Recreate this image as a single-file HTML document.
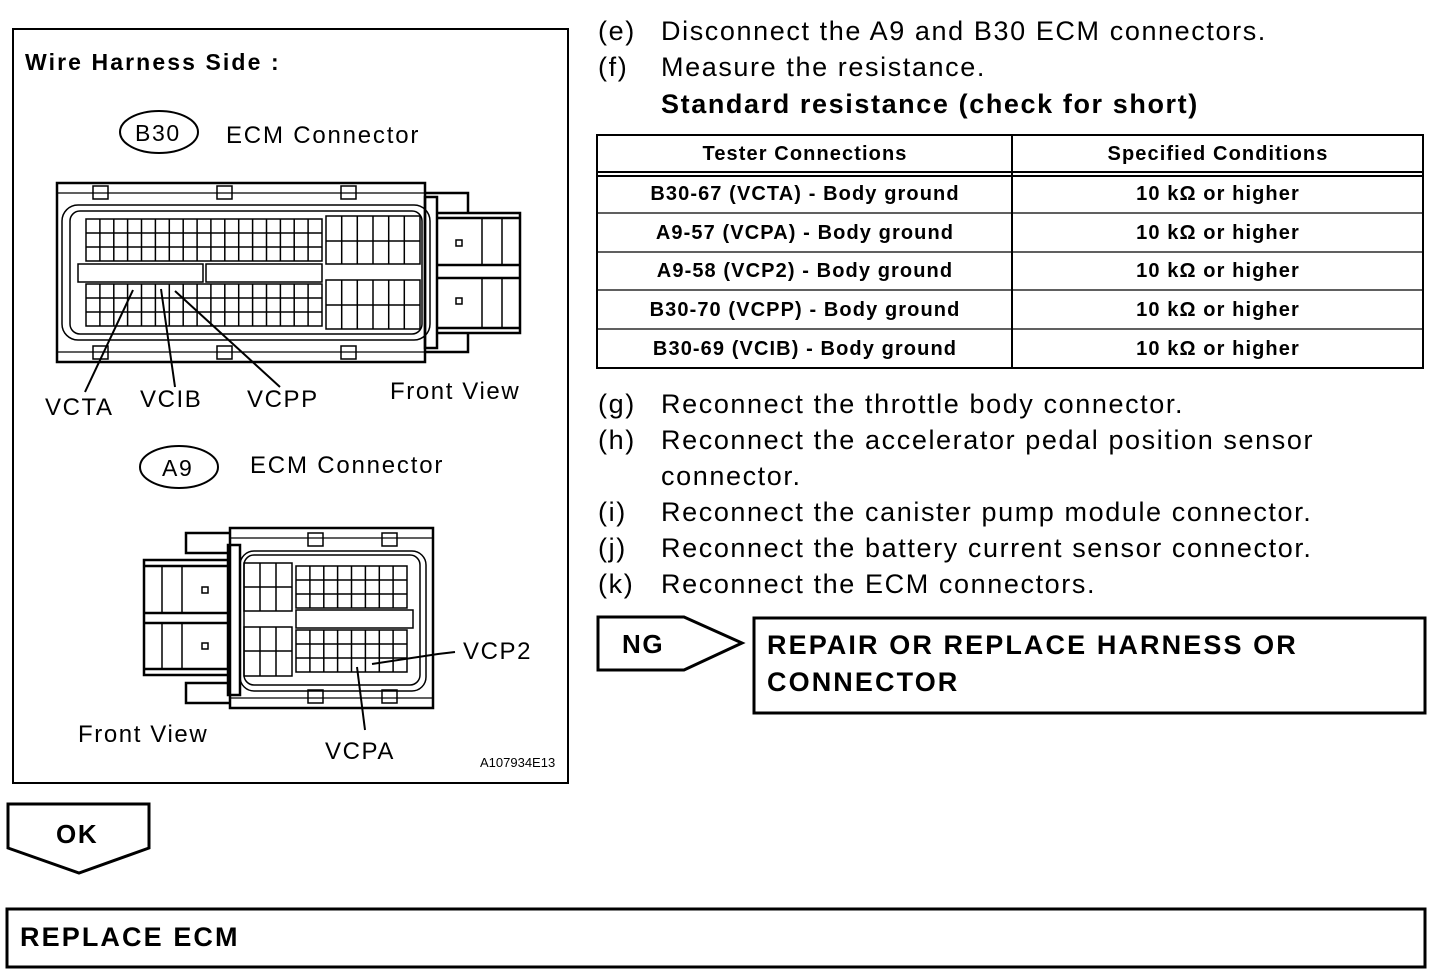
<!DOCTYPE html>
<html><head><meta charset="utf-8"><style>
body{margin:0;background:#fff;width:1456px;height:980px;overflow:hidden}
svg{position:absolute;left:0;top:0}
text{font-family:"Liberation Sans",Arial,sans-serif;fill:#000;letter-spacing:1.6px}
.b{font-weight:bold}
.t text{letter-spacing:1.1px}
.w{letter-spacing:2.1px}
</style></head><body>
<svg id="s" width="1456" height="980" xmlns="http://www.w3.org/2000/svg" stroke="#000" fill="none">
<rect x="13" y="29" width="555" height="754" stroke-width="2"/>
<text x="25" y="70" font-size="23" class="b w" stroke="none">Wire Harness Side :</text>
<ellipse cx="159" cy="132" rx="39" ry="21" stroke-width="2"/>
<text x="135" y="141" font-size="23" stroke="none">B30</text>
<text x="226" y="143" font-size="24" stroke="none" style="letter-spacing:1.8px">ECM Connector</text>
<ellipse cx="179" cy="467" rx="39" ry="21" stroke-width="2"/>
<text x="162" y="476" font-size="23" stroke="none">A9</text>
<text x="250" y="473" font-size="24" stroke="none" style="letter-spacing:1.8px">ECM Connector</text>

<g stroke-width="2.5">
<path d="M57 183 H425 V362 H57 Z"/>
<path d="M57 193 H425 M57 352 H425" stroke-width="1.2"/>
<path d="M425 193 H468 V213 M425 352 H468 V333"/>
<rect x="425" y="197" width="12" height="151"/>
<path d="M437 213 H520 V333 H437 M437 218 H520 M437 328 H520 M437 265 H520 M437 278 H520"/>
<rect x="62" y="205" width="368" height="135" rx="16" stroke-width="1.5"/>
<rect x="70" y="211" width="352" height="123" rx="10" stroke-width="1.5"/>
</g>
<g stroke-width="1.5">
<rect x="93" y="186" width="15" height="13"/><rect x="217" y="186" width="15" height="13"/><rect x="341" y="186" width="15" height="13"/>
<rect x="93" y="346" width="15" height="13"/><rect x="217" y="346" width="15" height="13"/><rect x="341" y="346" width="15" height="13"/>
<path d="M482 218 V265 M502 218 V265 M482 278 V328 M502 278 V328"/>
<rect x="456" y="240" width="6" height="6"/><rect x="456" y="298" width="6" height="6"/>
<rect x="78" y="264" width="125" height="18"/><rect x="206" y="264" width="116" height="18"/>
</g>
<g id="grids" stroke-width="1.5"></g>
<g stroke-width="2">
<path d="M133 290 L85 392"/><path d="M161 289 L175 387"/><path d="M175 291 L280 387"/>
</g>
<text x="45" y="415" font-size="24" stroke="none">VCTA</text>
<text x="140" y="407" font-size="24" stroke="none">VCIB</text>
<text x="247" y="407" font-size="24" stroke="none">VCPP</text>
<text x="390" y="399" font-size="24" stroke="none">Front View</text>

<g stroke-width="2.5">
<path d="M230 528 H433 V708 H230 Z"/>
<path d="M230 538 H433 M230 698 H433" stroke-width="1.2"/>
<path d="M230 533 H186 V553 H230 M230 703 H186 V683 H230"/>
<rect x="228" y="545" width="12" height="150"/>
<path d="M228 560 H144 V675 H228 M144 566 H228 M144 669 H228 M144 613 H228 M144 623 H228"/>
<rect x="240" y="551" width="186" height="140" rx="14" stroke-width="1.5"/>
<rect x="244" y="555" width="176" height="130" rx="10" stroke-width="1.5"/>
</g>
<g stroke-width="1.5">
<rect x="308" y="533" width="15" height="13"/><rect x="382" y="533" width="15" height="13"/>
<rect x="308" y="690" width="15" height="13"/><rect x="382" y="690" width="15" height="13"/>
<path d="M162 566 V613 M182 566 V613 M162 623 V669 M182 623 V669"/>
<rect x="202" y="587" width="6" height="6"/><rect x="202" y="643" width="6" height="6"/>
<rect x="296" y="610" width="117" height="18"/>
</g>
<g stroke-width="2">
<path d="M372 664 L438 654 L455 652"/><path d="M357 667 L365 730"/>
</g>
<text x="463" y="659" font-size="24" stroke="none">VCP2</text>
<text x="325" y="759" font-size="24" stroke="none">VCPA</text>
<text x="78" y="742" font-size="24" stroke="none">Front View</text>
<text x="480" y="767" font-size="13" stroke="none" style="letter-spacing:0">A107934E13</text>

<g font-size="27" stroke="none" style="letter-spacing:1.7px">
<text x="598" y="40" stroke="none">(e)</text><text x="661" y="40" stroke="none">Disconnect the A9 and B30 ECM connectors.</text>
<text x="598" y="76" stroke="none">(f)</text><text x="661" y="76" stroke="none">Measure the resistance.</text>
<text x="661" y="113" class="b" stroke="none">Standard resistance (check for short)</text>
<text x="598" y="413" stroke="none">(g)</text><text x="661" y="413" stroke="none">Reconnect the throttle body connector.</text>
<text x="598" y="449" stroke="none">(h)</text><text x="661" y="449" stroke="none">Reconnect the accelerator pedal position sensor</text>
<text x="661" y="485" stroke="none">connector.</text>
<text x="598" y="521" stroke="none">(i)</text><text x="661" y="521" stroke="none">Reconnect the canister pump module connector.</text>
<text x="598" y="557" stroke="none">(j)</text><text x="661" y="557" stroke="none">Reconnect the battery current sensor connector.</text>
<text x="598" y="593" stroke="none">(k)</text><text x="661" y="593" stroke="none">Reconnect the ECM connectors.</text>
</g>

<g stroke-width="2">
<rect x="597" y="135" width="826" height="233"/>
<path d="M1012 135 V368 M597 172 H1423 M597 176 H1423" />
<path d="M597 213 H1423 M597 252 H1423 M597 290 H1423 M597 329 H1423" stroke-width="1.2"/>
</g>
<g font-size="20" class="b t" stroke="none" text-anchor="middle">
<text x="805" y="160" stroke="none">Tester Connections</text><text x="1218" y="160" stroke="none">Specified Conditions</text>
<text x="805" y="200" stroke="none">B30-67 (VCTA) - Body ground</text><text x="1218" y="200" stroke="none">10 kΩ or higher</text>
<text x="805" y="239" stroke="none">A9-57 (VCPA) - Body ground</text><text x="1218" y="239" stroke="none">10 kΩ or higher</text>
<text x="805" y="277" stroke="none">A9-58 (VCP2) - Body ground</text><text x="1218" y="277" stroke="none">10 kΩ or higher</text>
<text x="805" y="316" stroke="none">B30-70 (VCPP) - Body ground</text><text x="1218" y="316" stroke="none">10 kΩ or higher</text>
<text x="805" y="355" stroke="none">B30-69 (VCIB) - Body ground</text><text x="1218" y="355" stroke="none">10 kΩ or higher</text>
</g>

<path d="M598 617 H684 L742 643 L684 670 H598 Z" stroke-width="3"/>
<text x="622" y="653" font-size="26" class="b" stroke="none">NG</text>
<rect x="754" y="618" width="671" height="95" stroke-width="3"/>
<text x="767" y="654" font-size="27" class="b w" stroke="none">REPAIR OR REPLACE HARNESS OR</text>
<text x="767" y="691" font-size="27" class="b w" stroke="none">CONNECTOR</text>

<path d="M8 804 H149 V848 L79 873 L8 848 Z" stroke-width="3"/>
<text x="56" y="843" font-size="26" class="b" stroke="none">OK</text>
<rect x="7" y="909" width="1418" height="58" stroke-width="3"/>
<text x="20" y="946" font-size="27" class="b w" stroke="none">REPLACE ECM</text>
</svg>
<script>
var g=document.getElementById('grids'),d='';
function grid(x0,x1,nc,ys){var y0=ys[0],y1=ys[ys.length-1];d+='M'+x0+' '+y0+'H'+x1+'V'+y1+'H'+x0+'Z';
for(var i=1;i<nc;i++){var x=x0+(x1-x0)*i/nc;d+='M'+x.toFixed(1)+' '+y0+'V'+y1;}
for(var j=1;j<ys.length-1;j++)d+='M'+x0+' '+ys[j]+'H'+x1;}
grid(86,322,17,[219,233,247,261]);grid(86,322,17,[284,298,312,326]);
grid(326,420,6,[216,241,264]);grid(326,420,6,[280,305,329]);
grid(244,292,3,[563,587,611]);grid(244,292,3,[627,651,676]);
grid(296,407,8,[566,580,594,608]);grid(296,407,8,[630,644,658,672]);
var p=document.createElementNS('http://www.w3.org/2000/svg','path');p.setAttribute('d',d);g.appendChild(p);
</script>
</body></html>
